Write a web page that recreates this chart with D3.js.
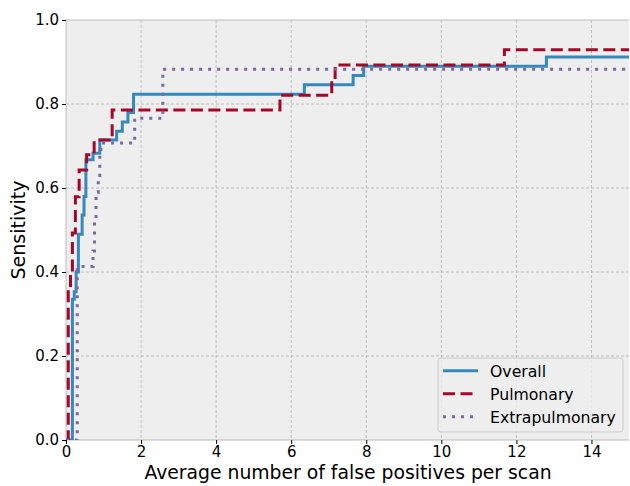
<!DOCTYPE html>
<html>
<head>
<meta charset="utf-8">
<script src="https://cdn.jsdelivr.net/npm/d3@7"></script>
<style>
  body { margin: 0; background: #fff; }
  text { font-family: "DejaVu Sans", sans-serif; }
</style>
</head>
<body>
<svg id="chart" width="630" height="486"></svg>
<script>
// step curves: [avg false positives per scan, sensitivity]
const overall = [[0, 0], [0.17, 0], [0.17, 0.335], [0.22, 0.353], [0.27, 0.40], [0.33, 0.49], [0.43, 0.536],
  [0.48, 0.58], [0.53, 0.667], [0.72, 0.683], [0.9, 0.714], [1.35, 0.735], [1.5, 0.757], [1.65, 0.78],
  [1.8, 0.823], [6.35, 0.846], [7.65, 0.868], [7.93, 0.89], [12.8, 0.912], [15, 0.912]];
const pulmonary = [[0, 0], [0.06, 0], [0.06, 0.357], [0.12, 0.405], [0.17, 0.493], [0.25, 0.579], [0.35, 0.643],
  [0.55, 0.679], [0.75, 0.714], [1.23, 0.786], [5.7, 0.821], [7.08, 0.857], [7.17, 0.893], [11.68, 0.929], [15, 0.929]];
const extrapulmonary = [[0, 0], [0.3, 0], [0.3, 0.413], [0.72, 0.45], [0.76, 0.52], [0.8, 0.59], [0.86, 0.63],
  [0.9, 0.68], [0.93, 0.707], [1.83, 0.766], [2.58, 0.883], [15, 0.883]];
const xTicks = [0, 2, 4, 6, 8, 10, 12, 14];
const yTicks = [0, 0.2, 0.4, 0.6, 0.8, 1.0];
const seriesNames = ['Overall', 'Pulmonary', 'Extrapulmonary'];

const svg = d3.select('#chart');
const m = {left: 66, top: 20, right: 629, bottom: 440};
const x = d3.scaleLinear().domain([0, 15]).range([m.left, m.right]);
const y = d3.scaleLinear().domain([0, 1]).range([m.bottom, m.top]);

svg.append('defs').append('clipPath').attr('id', 'clip')
  .append('rect').attr('x', m.left).attr('y', m.top - 3)
  .attr('width', m.right - m.left + 2).attr('height', m.bottom - m.top + 3);

svg.append('rect').attr('x', m.left).attr('y', m.top)
  .attr('width', m.right - m.left).attr('height', m.bottom - m.top)
  .attr('fill', '#eeeeee');

// grid
const grid = svg.append('g').attr('stroke', '#b2b2b2').attr('stroke-width', 0.8).attr('stroke-dasharray', '3,2');
grid.selectAll('.gx').data(xTicks.slice(1)).enter().append('line')
  .attr('x1', d => x(d)).attr('x2', d => x(d)).attr('y1', m.top).attr('y2', m.bottom);
grid.selectAll('.gy').data(yTicks.slice(1, -1)).enter().append('line')
  .attr('y1', d => y(d)).attr('y2', d => y(d)).attr('x1', m.left).attr('x2', m.right);

// spines
svg.append('path').attr('d', `M${m.left},${m.bottom}V${m.top}H${m.right}`)
  .attr('fill', 'none').attr('stroke', '#bcbcbc').attr('stroke-width', 1);
svg.append('line').attr('x1', m.left).attr('x2', m.right).attr('y1', m.bottom).attr('y2', m.bottom)
  .attr('stroke', '#bcbcbc');

// curves
const line = d3.line().x(d => x(d[0])).y(d => y(d[1])).curve(d3.curveStepAfter);
const plot = svg.append('g').attr('clip-path', 'url(#clip)');
const styles = [
  {data: overall, color: '#348ABD', dash: null},
  {data: pulmonary, color: '#A60628', dash: '12,5.5'},
  {data: extrapulmonary, color: '#7A68A6', dash: '3,6'}
];
styles.forEach(s => {
  plot.append('path').datum(s.data).attr('d', line)
    .attr('fill', 'none').attr('stroke', s.color).attr('stroke-width', 3)
    .attr('stroke-dasharray', s.dash);
});

// axes
const xAxis = svg.append('g').attr('transform', `translate(0,${m.bottom})`)
  .call(d3.axisBottom(x).tickValues(xTicks).tickFormat(d3.format('d')).tickSize(4).tickPadding(3));
const yAxis = svg.append('g').attr('transform', `translate(${m.left},0)`)
  .call(d3.axisLeft(y).tickValues(yTicks).tickFormat(d3.format('.1f')).tickSize(4).tickPadding(3));
[xAxis, yAxis].forEach(a => {
  a.select('.domain').remove();
  a.selectAll('line').attr('stroke', '#000').attr('stroke-width', 1);
  a.selectAll('text').attr('font-size', 15).attr('fill', '#000')
    .attr('font-family', '"DejaVu Sans", sans-serif');
});
xAxis.selectAll('text').attr('dy', '0.68em');

svg.append('text').attr('x', 348).attr('y', 479)
  .attr('text-anchor', 'middle').attr('font-size', 18.8).text('Average number of false positives per scan');
svg.append('text').attr('transform', `translate(25,${(m.top + m.bottom) / 2}) rotate(-90)`)
  .attr('text-anchor', 'middle').attr('font-size', 19).text('Sensitivity');

// legend
const lg = svg.append('g').attr('transform', 'translate(438,358)');
lg.append('rect').attr('width', 185).attr('height', 74).attr('rx', 3)
  .attr('fill', '#eeeeee').attr('fill-opacity', 0.8).attr('stroke', '#cccccc');
seriesNames.forEach((n, i) => {
  const yy = 12.7 + i * 23;
  lg.append('line').attr('x1', 5).attr('x2', 40).attr('y1', yy).attr('y2', yy)
    .attr('stroke', styles[i].color).attr('stroke-width', 3).attr('stroke-dasharray', styles[i].dash);
  lg.append('text').attr('x', 52).attr('y', yy + 6).attr('font-size', 15.7).text(n);
});
</script>
</body>
</html>
